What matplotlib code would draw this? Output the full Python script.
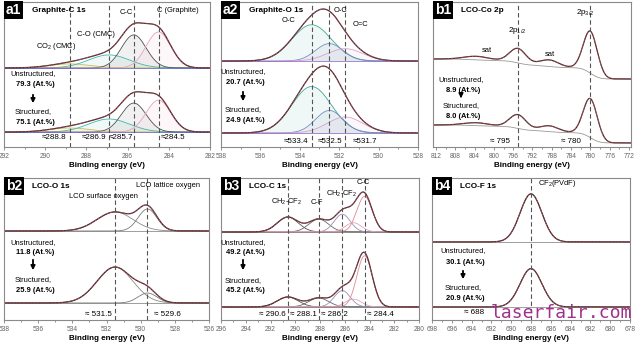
import numpy as np
import matplotlib.pyplot as plt
from matplotlib.patches import FancyArrowPatch

plt.rcParams['font.family'] = ['Liberation Sans', 'DejaVu Sans']
plt.rcParams['mathtext.default'] = 'regular'

W, H = 640, 345

# a1: Graphite-C 1s  (CO2, C-O, C-C, graphite)
a1_centers = [288.8, 286.9, 285.7, 284.5]
a1_sigmas = [1.0, 1.0, 0.6, 0.6]
a1_unstr = [0.028, 0.09, 0.228, 0.248]
a1_str = [0.028, 0.09, 0.20, 0.22]
a1_base = [0.545, 0.103]
a1_ticks = [292, 290, 288, 286, 284, 282]

# a2: Graphite-O 1s  (O-C, O-C, O=C)
a2_centers = [533.4, 532.5, 531.7]
a2_sigmas = [1.0, 0.7, 0.9]
a2_unstr = [0.25, 0.12, 0.085]
a2_str = [0.32, 0.155, 0.11]
a2_base = [0.593, 0.097]
a2_ticks = [538, 536, 534, 532, 530, 528]

# b1: LCO-Co 2p  (sat, 2p1/2, sat, 2p3/2), Shirley background levels (high E, low E)
b1_centers = [803.5, 795.0, 788.5, 780.0]
b1_sigmas = [2.6, 1.7, 2.0, 1.45]
b1_unstr = [0.024, 0.10, 0.045, 0.29]
b1_str = [0.02, 0.095, 0.04, 0.27]
b1_bg = [(0.607, 0.469), (0.152, 0.028)]
b1_ticks = [812, 808, 804, 800, 796, 792, 788, 784, 780, 776, 772]

# b2: LCO-O 1s  (surface oxygen, lattice oxygen)
b2_centers = [531.5, 529.6]
b2_sigmas = [1.05, 0.55]
b2_unstr = [0.134, 0.155]
b2_str = [0.253, 0.07]
b2_base = [0.627, 0.12]
b2_ticks = [538, 536, 534, 532, 530, 528, 526]

# b3: LCO-C 1s  (CH2-CF2, C-F, CH2-CF2, C-O, C-C)
b3_centers = [290.6, 288.1, 286.2, 285.3, 284.4]
b3_sigmas = [0.85, 0.8, 0.65, 0.65, 0.62]
b3_unstr = [0.105, 0.09, 0.125, 0.065, 0.25]
b3_str = [0.07, 0.063, 0.115, 0.055, 0.36]
b3_base = [0.62, 0.092]
b3_ticks = [296, 294, 292, 290, 288, 286, 284, 282, 280]

# b4: LCO-F 1s  (CF2 of PVdF)
b4_centers = [688.0]
b4_sigmas = [1.1]
b4_unstr = [0.338]
b4_str = [0.27]
b4_base = [0.55, 0.092]
b4_ticks = [698, 696, 694, 692, 690, 688, 686, 684, 682, 680, 678]

RAW = '#333333'
FIT = '#e03c50'


def gauss(x, c, h, s):
    return h * np.exp(-(x - c) ** 2 / (2 * s * s))


def make_axes(fig, l, t, r, b, xlim, ticks):
    ax = fig.add_axes([l / W, 1 - b / H, (r - l) / W, (b - t) / H])
    ax.set_xlim(*xlim)
    ax.set_ylim(0, 1)
    ax.set_yticks([])
    ax.set_xticks(ticks)
    step = abs(ticks[1] - ticks[0])
    ax.set_xticks(np.arange(min(ticks), max(ticks) + step / 2, step / 2), minor=True)
    ax.tick_params(axis='x', which='both', labelsize=4.8, colors='#666666',
                   length=2, width=0.5, pad=2)
    ax.tick_params(axis='x', which='minor', length=1.2)
    for sp in ax.spines.values():
        sp.set_color('#8a8a8a')
        sp.set_linewidth(0.8)
    ax.set_xlabel('Binding energy (eV)', fontsize=5.8, weight='bold', labelpad=1.5)
    return ax


def layered(ax, centers, sigmas, layers, bases, colors, base_color, fill=True):
    lo, hi = sorted(ax.get_xlim())
    x = np.linspace(lo, hi, 700)
    for heights, base in zip(layers, bases):
        total = np.full_like(x, base)
        for c, s, h, col in zip(centers, sigmas, heights, colors):
            g = gauss(x, c, h, s)
            if fill:
                ax.fill_between(x, base, base + g, color=col, alpha=0.08, lw=0)
            ax.plot(x, base + g, color=col, lw=0.6)
            total += g
        ax.plot(x, np.full_like(x, base), color=base_color, lw=0.5)
        ax.plot(x, total, color=RAW, lw=0.9)
        ax.plot(x, total, color=FIT, lw=0.5, ls=(0, (3, 2)))


def shirley(ax, centers, sigmas, layers, levels):
    lo, hi = sorted(ax.get_xlim())
    x = np.linspace(lo, hi, 700)
    for heights, (high, low) in zip(layers, levels):
        peaks = np.zeros_like(x)
        for c, s, h in zip(centers, sigmas, heights):
            peaks += gauss(x, c, h, s)
        area = np.cumsum(peaks)
        bg = low + (high - low) * area / area[-1]
        ax.plot(x, bg, color='#999999', lw=0.6)
        ax.plot(x, bg + peaks, color=RAW, lw=0.9)
        ax.plot(x, bg + peaks, color=FIT, lw=0.5, ls=(0, (3, 2)))


fig = plt.figure(figsize=(6.4, 3.45), dpi=100)


def put(s, x, y, size=5.4, ha='center', **kw):
    fig.text(x / W, 1 - y / H, s, fontsize=size, ha=ha, va='center', **kw)


def tag(label, title, x, y):
    put(label, x + 2, y, size=10, ha='left', color='white', weight='bold',
        bbox=dict(boxstyle='square,pad=0.12', fc='black', ec='none'))
    put(title, x + 28, y, size=5.9, ha='left', weight='bold')


def note(cx, ys, v1, v2, arrow_y):
    put('Unstructured,', cx, ys[0])
    put(v1 + ' (At.%)', cx + 2, ys[1], weight='bold')
    put('Structured,', cx, ys[2])
    put(v2 + ' (At.%)', cx + 2, ys[3], weight='bold')
    fig.add_artist(FancyArrowPatch((cx / W, 1 - arrow_y[0] / H), (cx / W, 1 - arrow_y[1] / H),
                                   transform=fig.transFigure, arrowstyle='-|>',
                                   mutation_scale=6, lw=1.3, color='black'))


def marks(ax, energies):
    for e in energies:
        ax.axvline(e, color='#555555', lw=0.8, ls=(0, (4, 2.5)))


# ---------- a1 ----------
ax = make_axes(fig, 4, 2, 210, 147, (292, 282), a1_ticks)
layered(ax, a1_centers, a1_sigmas, [a1_unstr, a1_str], a1_base,
        ['#c8c050', '#3fb8a8', '#505050', '#e8a0b8'], '#5a5ad0')
marks(ax, a1_centers)
tag('a1', 'Graphite-C 1s', 4, 10)
put('CO$_2$ (CMC)', 56, 47)
put('C-O (CMC)', 96, 34)
put('C-C', 126, 12)
put('C (Graphite)', 178, 10)
for s, x in zip(['≈288.8', '≈286.9', '≈285.7', '≈284.5'], [54, 94, 121, 173]):
    put(s, x, 137, size=5.8)
note(33, [74, 85, 112, 122], '79.3', '75.1', (92, 106))

# ---------- a2 ----------
ax = make_axes(fig, 221, 2, 418, 147, (538, 528), a2_ticks)
layered(ax, a2_centers, a2_sigmas, [a2_unstr, a2_str], a2_base,
        ['#3fa890', '#7a88c8', '#d8a0c8'], '#8a60c0')
marks(ax, a2_centers)
tag('a2', 'Graphite-O 1s', 221, 10)
put('O-C', 288, 21)
put('O-C', 341, 10)
put('O=C', 360, 25)
for s, x in zip(['≈533.4', '≈532.5', '≈531.7'], [296, 330, 365]):
    put(s, x, 142, size=5.8)
note(243, [72, 82, 110, 120], '20.7', '24.9', (89, 104))

# ---------- b1 ----------
ax = make_axes(fig, 433, 2, 631, 147, (812.6, 771.6), b1_ticks)
shirley(ax, b1_centers, b1_sigmas, [b1_unstr, b1_str], b1_bg)
marks(ax, [795, 780])
tag('b1', 'LCO-Co 2p', 433, 10)
put('2p$_{3/2}$', 585, 13, size=5.8)
put('2p$_{1/2}$', 517, 31, size=5.8)
put('sat', 487, 50)
put('sat', 550, 54)
put('≈ 795', 500, 141, size=5.8)
put('≈ 780', 571, 142, size=5.8)
note(461, [80, 91, 106, 116], '8.9', '8.0', (92, 101))

# ---------- b2 ----------
ax = make_axes(fig, 4, 178, 209, 320, (538, 526), b2_ticks)
layered(ax, b2_centers, b2_sigmas, [b2_unstr, b2_str], b2_base,
        ['#8a8a8a', '#7a7a7a'], '#777777', fill=False)
marks(ax, b2_centers)
tag('b2', 'LCO-O 1s', 4, 186)
put('LCO lattice oxygen', 168, 185)
put('LCO surface oxygen', 103, 196)
put('≈ 531.5', 98, 314, size=5.8)
put('≈ 529.6', 167, 314, size=5.8)
note(33, [243, 253, 280, 290], '11.8', '25.9', (257, 273))

# ---------- b3 ----------
ax = make_axes(fig, 221, 178, 419, 320, (296, 280), b3_ticks)
layered(ax, b3_centers, b3_sigmas, [b3_unstr, b3_str], b3_base,
        ['#555555', '#666666', '#9a90b0', '#e0a8b8', '#e08898'], '#777777', fill=False)
marks(ax, [290.6, 288.1, 286.2, 284.4])
tag('b3', 'LCO-C 1s', 221, 186)
put('C-C', 363, 182)
put('CH$_2$-CF$_2$', 342, 194)
put('C-F', 317, 203)
put('CH$_2$-CF$_2$', 287, 202)
for s, x in zip(['≈ 290.6', '≈ 288.1', '≈ 286.2', '≈ 284.4'], [272, 303, 334, 380]):
    put(s, x, 315, size=5.8)
note(243, [243, 253, 281, 291], '49.2', '45.2', (257, 273))

# ---------- b4 ----------
ax = make_axes(fig, 432, 178, 630, 320, (698, 678), b4_ticks)
layered(ax, b4_centers, b4_sigmas, [b4_unstr, b4_str], b4_base,
        ['#8a8a8a'], '#777777', fill=False)
marks(ax, b4_centers)
tag('b4', 'LCO-F 1s', 432, 186)
put('CF$_2$(PVdF)', 557, 183)
put('≈ 688', 474, 312, size=5.8)
note(463, [251, 262, 288, 299], '30.1', '20.9', (268, 282))
put('laserfair.com', 561, 313, size=13, color='#a0308c', family='DejaVu Sans Mono')

fig.savefig('out.png', dpi=100)
